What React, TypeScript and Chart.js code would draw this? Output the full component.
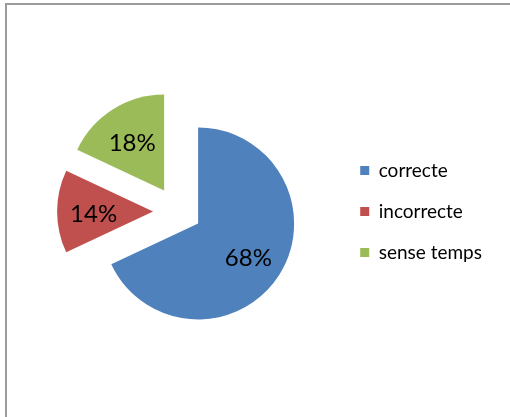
import React, { useEffect, useRef } from "react";
import { Chart, registerables } from "chart.js";

Chart.register(...registerables);

const categories = ["correcte", "incorrecte", "sense temps"];
const values = [68, 14, 18];
const colors = ["#4F81BD", "#C0504D", "#9BBB59"];
// exploded-slice displacement (style), in px: [dx, dy]
const explode = [
  [0, 0],
  [-45, -12],
  [-34, -33],
];

const explodePlugin = {
  id: "explodeSlices",
  afterDatasetsUpdate(chart: any) {
    const meta = chart.getDatasetMeta(0);
    meta.data.forEach((el: any, i: number) => {
      const d = explode[i] || [0, 0];
      el.x += d[0];
      el.y += d[1];
    });
  },
};

const labelPlugin = {
  id: "pieLabels",
  afterDatasetsDraw(chart: any) {
    const ctx = chart.ctx;
    const meta = chart.getDatasetMeta(0);
    const data = chart.data.datasets[0].data as number[];
    const total = data.reduce((a, b) => a + b, 0);
    ctx.save();
    ctx.font = "24px Lato";
    ctx.fillStyle = "#000";
    ctx.textAlign = "center";
    ctx.textBaseline = "middle";
    meta.data.forEach((el: any, i: number) => {
      const mid = (el.startAngle + el.endAngle) / 2;
      const r = el.outerRadius * 0.62;
      const x = el.x + Math.cos(mid) * r;
      const y = el.y + Math.sin(mid) * r + 3;
      ctx.fillText(Math.round((data[i] / total) * 100) + "%", x, y);
    });
    ctx.restore();
  },
};

export default function App() {
  const ref = useRef<HTMLCanvasElement>(null);
  useEffect(() => {
    if (!ref.current) return;
    const chart = new Chart(ref.current, {
      type: "pie",
      data: {
        labels: categories,
        datasets: [
          {
            data: values,
            backgroundColor: colors,
            borderWidth: 0,
            clip: false as any,
          },
        ],
      },
      options: {
        responsive: false,
        animation: false,
        events: [],
        radius: 96,
        layout: { padding: { left: 58, right: 18, top: 139, bottom: 109 } },
        plugins: {
          tooltip: { enabled: false },
          legend: {
            position: "right",
            align: "start",
            labels: {
              boxWidth: 9,
              boxHeight: 9,
              padding: 22,
              color: "#000",
              font: { family: "Lato", size: 19 },
            },
          },
        },
      } as any,
      plugins: [explodePlugin, labelPlugin],
    });
    return () => chart.destroy();
  }, []);
  return (
    <div style={{ position: "absolute", left: 0, top: 0, width: 510, height: 417, overflow: "hidden", background: "#fff" }}>
      <canvas ref={ref} width={510} height={417} style={{ display: "block", position: "absolute", left: 0, top: 0 }} />
      <div
        style={{
          position: "absolute",
          left: 5,
          top: 3,
          width: 540,
          height: 450,
          border: "2px solid #9c9c9c",
          boxSizing: "border-box",
          pointerEvents: "none",
        }}
      />
    </div>
  );
}
